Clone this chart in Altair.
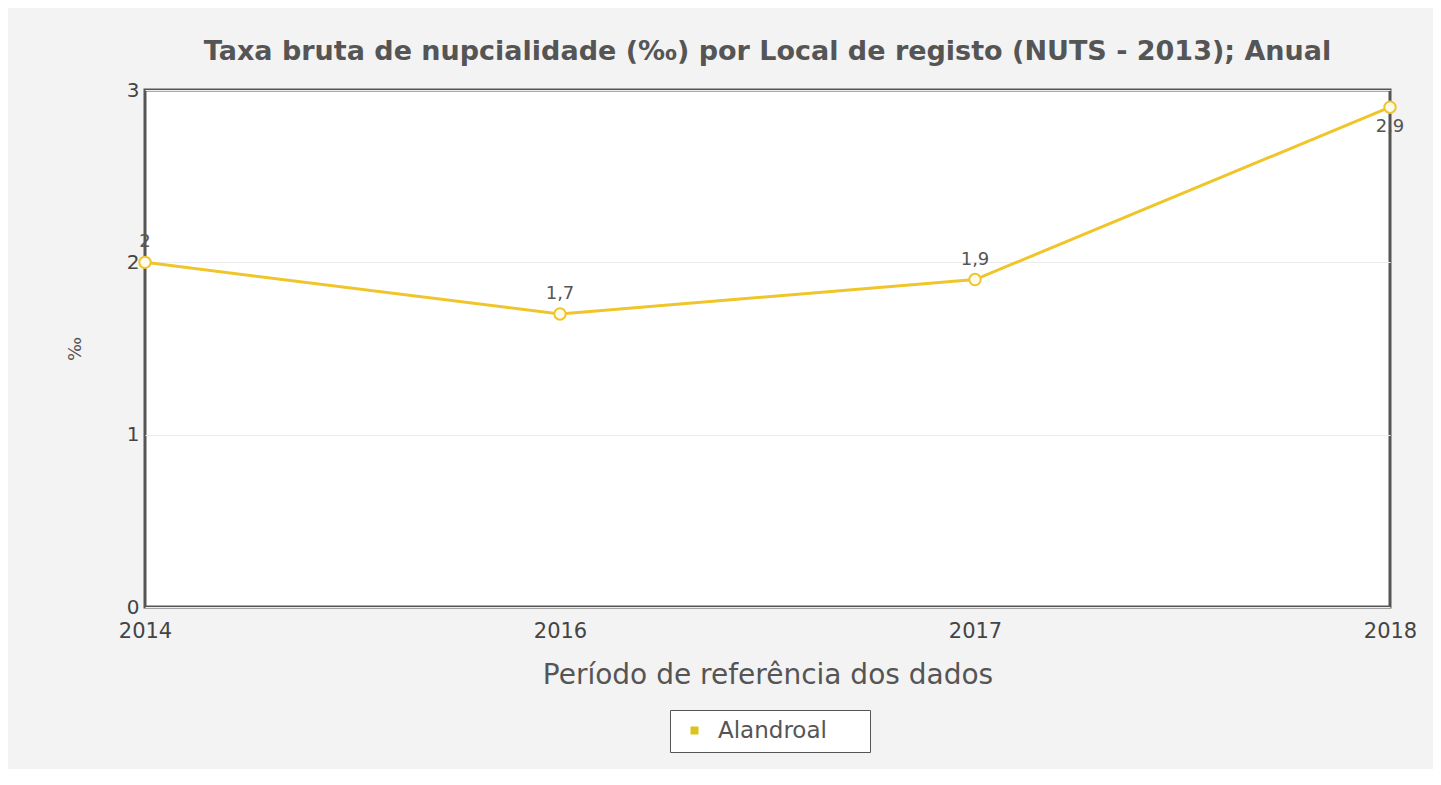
import altair as alt
import pandas as pd

years = ["2014", "2016", "2017", "2018"]
values = [2.0, 1.7, 1.9, 2.9]
series = ["Alandroal"] * 4
label_side = ["above", "above", "above", "below"]

df = pd.DataFrame({"ano": years, "valor": values, "serie": series, "lado": label_side})

GOLD = "#f0c52a"
FONT = "DejaVu Sans"

x = alt.X("ano:O", sort=years,
          scale=alt.Scale(type="point", padding=0),
          axis=alt.Axis(title="Período de referência dos dados", labelAngle=0,
                        labelFontSize=21, labelColor="#444", labelPadding=13,
                        titleFontSize=28, titleColor="#555", titleFontWeight="normal",
                        titlePadding=20, domain=False, ticks=False, grid=False,
                        labelFont=FONT, titleFont=FONT))
y = alt.Y("valor:Q", scale=alt.Scale(domain=[0, 3]),
          axis=alt.Axis(title="‰", values=[0, 1, 2, 3], labelFontSize=20, labelColor="#444",
                        labelPadding=6, titleFontSize=18, titleColor="#555",
                        titleFontWeight="normal", titlePadding=42, domain=False, ticks=False,
                        gridColor="#ececec", labelFont=FONT, titleFont=FONT))

color = alt.Color("serie:N", scale=alt.Scale(range=[GOLD]),
                  legend=alt.Legend(title=None, orient="none", legendX=525, legendY=620,
                                    symbolType="square", symbolSize=64, symbolStrokeWidth=0,
                                    symbolFillColor="#d9c41c",
                                    labelFontSize=23, labelColor="#555", labelFont=FONT,
                                    labelExpr="datum.label + '\u2800\u2800'",
                                    fillColor="white", strokeColor="#555", padding=9,
                                    symbolOffset=4, labelOffset=12))

base = alt.Chart(df)

line = base.mark_line(strokeWidth=3).encode(x=x, y=y, color=color)
pts = base.mark_point(filled=True, fill="#fffbea", stroke=GOLD, strokeWidth=2, size=130, opacity=1).encode(x=x, y=y)

lab_expr = "replace(format(datum.valor, '~g'), '.', ',')"
above = base.transform_filter("datum.lado == 'above'").transform_calculate(txt=lab_expr).mark_text(
    dy=-20, fontSize=18, color="#555", font=FONT).encode(x=x, y=y, text="txt:N")
below = base.transform_filter("datum.lado == 'below'").transform_calculate(txt=lab_expr).mark_text(
    dy=20, fontSize=18, color="#555", font=FONT).encode(x=x, y=y, text="txt:N")

chart = alt.layer(line, pts, above, below).properties(
    width=1245, height=517,
    title=alt.TitleParams("Taxa bruta de nupcialidade (‰) por Local de registo (NUTS - 2013); Anual",
                          fontSize=27, font=FONT, fontWeight="bold", color="#555", offset=14,
                          anchor="middle"),
    autosize=alt.AutoSizeParams(type="none"),
    padding={"left": 137, "top": 82, "right": 43, "bottom": 162},
    background="#f3f3f3",
).configure_view(stroke="#555", strokeWidth=3, fill="white")

chart.save("out.html", embed_options={"renderer": "svg", "actions": False})
